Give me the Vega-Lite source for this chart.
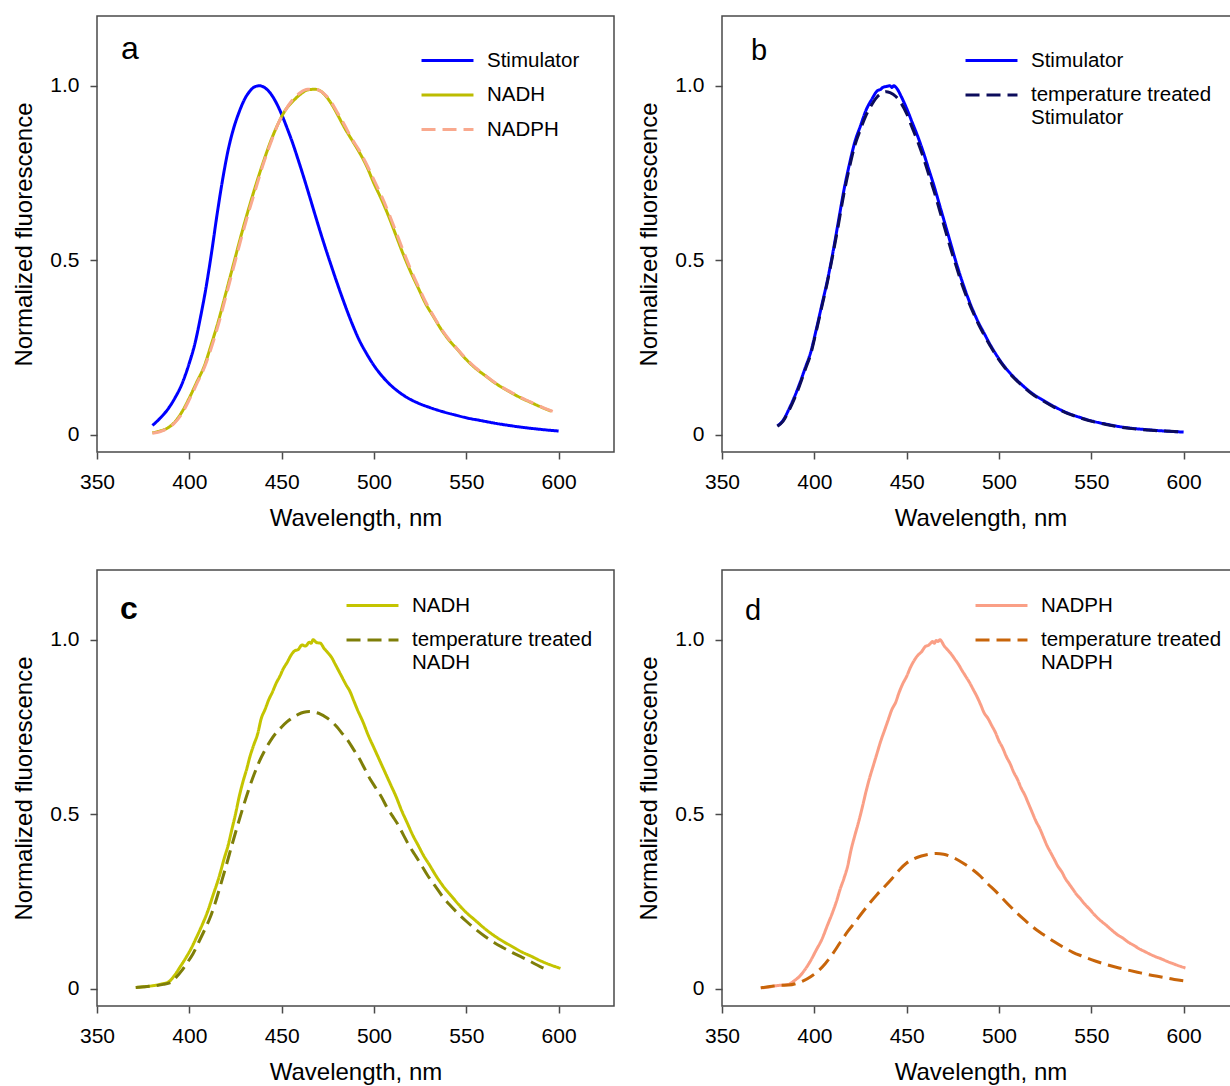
{
"$schema": "https://vega.github.io/schema/vega-lite/v6.json",
"padding": {"left": 12, "top": 15, "right": -8, "bottom": 0},
"background": "white",
"bounds": "flush",
"columns": 2,
"spacing": {"row": 118, "column": 108},
"resolve": {"scale": {"color": "independent", "strokeDash": "independent"}, "legend": {"color": "independent", "strokeDash": "independent"}},
"config": {
  "font": "Liberation Sans",
  "view": {"stroke": "#4a4a4a", "strokeWidth": 1.5},
  "axis": {"domain": false, "grid": false, "ticks": true, "tickColor": "#4a4a4a", "tickWidth": 1.5, "tickSize": 7, "labelFontSize": 21, "labelColor": "#000", "labelPadding": 12, "labelFlush": false, "titleFontSize": 24, "titleFontWeight": "normal", "titleColor": "#000"},
  "axisX": {"titlePadding": 14},
  "axisY": {"labelPadding": 11, "titlePadding": 13},
  "legend": {"orient": "none", "labelFontSize": 20.5, "labelColor": "#000", "symbolType": "stroke", "symbolSize": 2700, "symbolStrokeWidth": 3, "labelOffset": 12, "rowPadding": 13.5, "padding": 0, "clipHeight": 20, "labelLimit": 400},
  "title": {"anchor": "start", "frame": "group", "baseline": "alphabetic", "fontWeight": "normal", "color": "#000", "orient": "top"}
},
"data": {"values": [
{"panel":"a","series":"Stimulator","nm":380,"value":0.026},{"panel":"a","series":"Stimulator","nm":384,"value":0.046},{"panel":"a","series":"Stimulator","nm":388,"value":0.07},{"panel":"a","series":"Stimulator","nm":392,"value":0.103},{"panel":"a","series":"Stimulator","nm":396,"value":0.145},{"panel":"a","series":"Stimulator","nm":400,"value":0.205},{"panel":"a","series":"Stimulator","nm":403,"value":0.26},{"panel":"a","series":"Stimulator","nm":406,"value":0.335},{"panel":"a","series":"Stimulator","nm":409,"value":0.42},{"panel":"a","series":"Stimulator","nm":412,"value":0.52},{"panel":"a","series":"Stimulator","nm":415,"value":0.63},{"panel":"a","series":"Stimulator","nm":418,"value":0.73},{"panel":"a","series":"Stimulator","nm":421,"value":0.815},{"panel":"a","series":"Stimulator","nm":424,"value":0.878},{"panel":"a","series":"Stimulator","nm":427,"value":0.925},{"panel":"a","series":"Stimulator","nm":430,"value":0.962},{"panel":"a","series":"Stimulator","nm":433,"value":0.986},{"panel":"a","series":"Stimulator","nm":435,"value":0.996},{"panel":"a","series":"Stimulator","nm":438,"value":1.0},{"panel":"a","series":"Stimulator","nm":441,"value":0.994},{"panel":"a","series":"Stimulator","nm":444,"value":0.978},{"panel":"a","series":"Stimulator","nm":447,"value":0.952},{"panel":"a","series":"Stimulator","nm":450,"value":0.918},{"panel":"a","series":"Stimulator","nm":453,"value":0.878},{"panel":"a","series":"Stimulator","nm":456,"value":0.835},{"panel":"a","series":"Stimulator","nm":459,"value":0.787},{"panel":"a","series":"Stimulator","nm":462,"value":0.737},{"panel":"a","series":"Stimulator","nm":465,"value":0.685},{"panel":"a","series":"Stimulator","nm":468,"value":0.632},{"panel":"a","series":"Stimulator","nm":471,"value":0.58},{"panel":"a","series":"Stimulator","nm":474,"value":0.53},{"panel":"a","series":"Stimulator","nm":477,"value":0.482},{"panel":"a","series":"Stimulator","nm":480,"value":0.435},{"panel":"a","series":"Stimulator","nm":483,"value":0.39},{"panel":"a","series":"Stimulator","nm":486,"value":0.347},{"panel":"a","series":"Stimulator","nm":489,"value":0.307},{"panel":"a","series":"Stimulator","nm":492,"value":0.271},{"panel":"a","series":"Stimulator","nm":496,"value":0.232},{"panel":"a","series":"Stimulator","nm":500,"value":0.198},{"panel":"a","series":"Stimulator","nm":504,"value":0.17},{"panel":"a","series":"Stimulator","nm":508,"value":0.147},{"panel":"a","series":"Stimulator","nm":513,"value":0.124},{"panel":"a","series":"Stimulator","nm":518,"value":0.106},{"panel":"a","series":"Stimulator","nm":524,"value":0.09},{"panel":"a","series":"Stimulator","nm":530,"value":0.078},{"panel":"a","series":"Stimulator","nm":537,"value":0.066},{"panel":"a","series":"Stimulator","nm":544,"value":0.056},{"panel":"a","series":"Stimulator","nm":551,"value":0.047},{"panel":"a","series":"Stimulator","nm":558,"value":0.04},{"panel":"a","series":"Stimulator","nm":565,"value":0.033},{"panel":"a","series":"Stimulator","nm":572,"value":0.027},{"panel":"a","series":"Stimulator","nm":580,"value":0.021},{"panel":"a","series":"Stimulator","nm":590,"value":0.015},{"panel":"a","series":"Stimulator","nm":600,"value":0.01},
{"panel":"a","series":"NADH","nm":380,"value":0.005},{"panel":"a","series":"NADH","nm":384,"value":0.01},{"panel":"a","series":"NADH","nm":388,"value":0.018},{"panel":"a","series":"NADH","nm":392,"value":0.035},{"panel":"a","series":"NADH","nm":396,"value":0.065},{"panel":"a","series":"NADH","nm":400,"value":0.105},{"panel":"a","series":"NADH","nm":404,"value":0.15},{"panel":"a","series":"NADH","nm":408,"value":0.195},{"panel":"a","series":"NADH","nm":412,"value":0.26},{"panel":"a","series":"NADH","nm":416,"value":0.33},{"panel":"a","series":"NADH","nm":420,"value":0.41},{"panel":"a","series":"NADH","nm":424,"value":0.49},{"panel":"a","series":"NADH","nm":428,"value":0.57},{"panel":"a","series":"NADH","nm":432,"value":0.645},{"panel":"a","series":"NADH","nm":436,"value":0.715},{"panel":"a","series":"NADH","nm":440,"value":0.78},{"panel":"a","series":"NADH","nm":444,"value":0.84},{"panel":"a","series":"NADH","nm":448,"value":0.89},{"panel":"a","series":"NADH","nm":452,"value":0.93},{"panel":"a","series":"NADH","nm":456,"value":0.955},{"panel":"a","series":"NADH","nm":460,"value":0.975},{"panel":"a","series":"NADH","nm":464,"value":0.988},{"panel":"a","series":"NADH","nm":468,"value":0.99},{"panel":"a","series":"NADH","nm":471,"value":0.985},{"panel":"a","series":"NADH","nm":474,"value":0.97},{"panel":"a","series":"NADH","nm":477,"value":0.948},{"panel":"a","series":"NADH","nm":480,"value":0.92},{"panel":"a","series":"NADH","nm":484,"value":0.88},{"panel":"a","series":"NADH","nm":488,"value":0.845},{"panel":"a","series":"NADH","nm":492,"value":0.81},{"panel":"a","series":"NADH","nm":496,"value":0.77},{"panel":"a","series":"NADH","nm":500,"value":0.72},{"panel":"a","series":"NADH","nm":504,"value":0.675},{"panel":"a","series":"NADH","nm":508,"value":0.625},{"panel":"a","series":"NADH","nm":512,"value":0.57},{"panel":"a","series":"NADH","nm":516,"value":0.515},{"panel":"a","series":"NADH","nm":520,"value":0.465},{"panel":"a","series":"NADH","nm":524,"value":0.42},{"panel":"a","series":"NADH","nm":528,"value":0.375},{"panel":"a","series":"NADH","nm":532,"value":0.34},{"panel":"a","series":"NADH","nm":536,"value":0.305},{"panel":"a","series":"NADH","nm":540,"value":0.275},{"panel":"a","series":"NADH","nm":545,"value":0.245},{"panel":"a","series":"NADH","nm":550,"value":0.215},{"panel":"a","series":"NADH","nm":555,"value":0.19},{"panel":"a","series":"NADH","nm":560,"value":0.17},{"panel":"a","series":"NADH","nm":565,"value":0.15},{"panel":"a","series":"NADH","nm":570,"value":0.133},{"panel":"a","series":"NADH","nm":575,"value":0.118},{"panel":"a","series":"NADH","nm":580,"value":0.104},{"panel":"a","series":"NADH","nm":585,"value":0.092},{"panel":"a","series":"NADH","nm":590,"value":0.08},{"panel":"a","series":"NADH","nm":596,"value":0.067},
{"panel":"a","series":"NADPH","nm":380,"value":0.004},{"panel":"a","series":"NADPH","nm":384,"value":0.008},{"panel":"a","series":"NADPH","nm":388,"value":0.017},{"panel":"a","series":"NADPH","nm":392,"value":0.033},{"panel":"a","series":"NADPH","nm":396,"value":0.06},{"panel":"a","series":"NADPH","nm":400,"value":0.10},{"panel":"a","series":"NADPH","nm":404,"value":0.145},{"panel":"a","series":"NADPH","nm":408,"value":0.19},{"panel":"a","series":"NADPH","nm":412,"value":0.25},{"panel":"a","series":"NADPH","nm":416,"value":0.32},{"panel":"a","series":"NADPH","nm":420,"value":0.40},{"panel":"a","series":"NADPH","nm":424,"value":0.48},{"panel":"a","series":"NADPH","nm":428,"value":0.56},{"panel":"a","series":"NADPH","nm":432,"value":0.635},{"panel":"a","series":"NADPH","nm":436,"value":0.705},{"panel":"a","series":"NADPH","nm":440,"value":0.775},{"panel":"a","series":"NADPH","nm":444,"value":0.835},{"panel":"a","series":"NADPH","nm":448,"value":0.89},{"panel":"a","series":"NADPH","nm":452,"value":0.93},{"panel":"a","series":"NADPH","nm":456,"value":0.96},{"panel":"a","series":"NADPH","nm":460,"value":0.98},{"panel":"a","series":"NADPH","nm":464,"value":0.99},{"panel":"a","series":"NADPH","nm":468,"value":0.99},{"panel":"a","series":"NADPH","nm":471,"value":0.985},{"panel":"a","series":"NADPH","nm":474,"value":0.972},{"panel":"a","series":"NADPH","nm":477,"value":0.952},{"panel":"a","series":"NADPH","nm":480,"value":0.925},{"panel":"a","series":"NADPH","nm":484,"value":0.888},{"panel":"a","series":"NADPH","nm":488,"value":0.848},{"panel":"a","series":"NADPH","nm":492,"value":0.815},{"panel":"a","series":"NADPH","nm":496,"value":0.775},{"panel":"a","series":"NADPH","nm":500,"value":0.73},{"panel":"a","series":"NADPH","nm":504,"value":0.685},{"panel":"a","series":"NADPH","nm":508,"value":0.635},{"panel":"a","series":"NADPH","nm":512,"value":0.58},{"panel":"a","series":"NADPH","nm":516,"value":0.525},{"panel":"a","series":"NADPH","nm":520,"value":0.472},{"panel":"a","series":"NADPH","nm":524,"value":0.425},{"panel":"a","series":"NADPH","nm":528,"value":0.38},{"panel":"a","series":"NADPH","nm":532,"value":0.342},{"panel":"a","series":"NADPH","nm":536,"value":0.307},{"panel":"a","series":"NADPH","nm":540,"value":0.277},{"panel":"a","series":"NADPH","nm":545,"value":0.246},{"panel":"a","series":"NADPH","nm":550,"value":0.217},{"panel":"a","series":"NADPH","nm":555,"value":0.192},{"panel":"a","series":"NADPH","nm":560,"value":0.171},{"panel":"a","series":"NADPH","nm":565,"value":0.151},{"panel":"a","series":"NADPH","nm":570,"value":0.134},{"panel":"a","series":"NADPH","nm":575,"value":0.119},{"panel":"a","series":"NADPH","nm":580,"value":0.105},{"panel":"a","series":"NADPH","nm":585,"value":0.093},{"panel":"a","series":"NADPH","nm":590,"value":0.081},{"panel":"a","series":"NADPH","nm":597,"value":0.066},
{"panel":"b","series":"Stimulator","nm":380,"value":0.025},{"panel":"b","series":"Stimulator","nm":383,"value":0.04},{"panel":"b","series":"Stimulator","nm":386,"value":0.07},{"panel":"b","series":"Stimulator","nm":389,"value":0.105},{"panel":"b","series":"Stimulator","nm":392,"value":0.145},{"panel":"b","series":"Stimulator","nm":395,"value":0.19},{"panel":"b","series":"Stimulator","nm":398,"value":0.235},{"panel":"b","series":"Stimulator","nm":401,"value":0.30},{"panel":"b","series":"Stimulator","nm":404,"value":0.37},{"panel":"b","series":"Stimulator","nm":407,"value":0.44},{"panel":"b","series":"Stimulator","nm":410,"value":0.52},{"panel":"b","series":"Stimulator","nm":413,"value":0.61},{"panel":"b","series":"Stimulator","nm":416,"value":0.70},{"panel":"b","series":"Stimulator","nm":419,"value":0.775},{"panel":"b","series":"Stimulator","nm":422,"value":0.84},{"panel":"b","series":"Stimulator","nm":425,"value":0.885},{"panel":"b","series":"Stimulator","nm":428,"value":0.93},{"panel":"b","series":"Stimulator","nm":431,"value":0.96},{"panel":"b","series":"Stimulator","nm":434,"value":0.985},{"panel":"b","series":"Stimulator","nm":436,"value":0.99},{"panel":"b","series":"Stimulator","nm":437,"value":0.995},{"panel":"b","series":"Stimulator","nm":439,"value":0.998},{"panel":"b","series":"Stimulator","nm":441,"value":1.0},{"panel":"b","series":"Stimulator","nm":442,"value":0.995},{"panel":"b","series":"Stimulator","nm":443,"value":1.0},{"panel":"b","series":"Stimulator","nm":445,"value":0.99},{"panel":"b","series":"Stimulator","nm":447,"value":0.97},{"panel":"b","series":"Stimulator","nm":450,"value":0.935},{"panel":"b","series":"Stimulator","nm":453,"value":0.895},{"panel":"b","series":"Stimulator","nm":456,"value":0.855},{"panel":"b","series":"Stimulator","nm":459,"value":0.81},{"panel":"b","series":"Stimulator","nm":462,"value":0.76},{"panel":"b","series":"Stimulator","nm":465,"value":0.71},{"panel":"b","series":"Stimulator","nm":468,"value":0.655},{"panel":"b","series":"Stimulator","nm":471,"value":0.60},{"panel":"b","series":"Stimulator","nm":474,"value":0.545},{"panel":"b","series":"Stimulator","nm":477,"value":0.49},{"panel":"b","series":"Stimulator","nm":480,"value":0.44},{"panel":"b","series":"Stimulator","nm":483,"value":0.395},{"panel":"b","series":"Stimulator","nm":486,"value":0.355},{"panel":"b","series":"Stimulator","nm":489,"value":0.32},{"panel":"b","series":"Stimulator","nm":492,"value":0.29},{"panel":"b","series":"Stimulator","nm":495,"value":0.26},{"panel":"b","series":"Stimulator","nm":499,"value":0.225},{"panel":"b","series":"Stimulator","nm":503,"value":0.195},{"panel":"b","series":"Stimulator","nm":508,"value":0.165},{"panel":"b","series":"Stimulator","nm":513,"value":0.14},{"panel":"b","series":"Stimulator","nm":518,"value":0.118},{"panel":"b","series":"Stimulator","nm":524,"value":0.098},{"panel":"b","series":"Stimulator","nm":530,"value":0.08},{"panel":"b","series":"Stimulator","nm":537,"value":0.062},{"panel":"b","series":"Stimulator","nm":544,"value":0.049},{"panel":"b","series":"Stimulator","nm":551,"value":0.038},{"panel":"b","series":"Stimulator","nm":558,"value":0.03},{"panel":"b","series":"Stimulator","nm":565,"value":0.023},{"panel":"b","series":"Stimulator","nm":572,"value":0.018},{"panel":"b","series":"Stimulator","nm":580,"value":0.014},{"panel":"b","series":"Stimulator","nm":590,"value":0.01},{"panel":"b","series":"Stimulator","nm":600,"value":0.007},
{"panel":"b","series":"temperature treated Stimulator","nm":380,"value":0.024},{"panel":"b","series":"temperature treated Stimulator","nm":383,"value":0.038},{"panel":"b","series":"temperature treated Stimulator","nm":386,"value":0.066},{"panel":"b","series":"temperature treated Stimulator","nm":389,"value":0.10},{"panel":"b","series":"temperature treated Stimulator","nm":392,"value":0.14},{"panel":"b","series":"temperature treated Stimulator","nm":395,"value":0.185},{"panel":"b","series":"temperature treated Stimulator","nm":398,"value":0.23},{"panel":"b","series":"temperature treated Stimulator","nm":401,"value":0.295},{"panel":"b","series":"temperature treated Stimulator","nm":404,"value":0.365},{"panel":"b","series":"temperature treated Stimulator","nm":407,"value":0.435},{"panel":"b","series":"temperature treated Stimulator","nm":410,"value":0.515},{"panel":"b","series":"temperature treated Stimulator","nm":413,"value":0.60},{"panel":"b","series":"temperature treated Stimulator","nm":416,"value":0.69},{"panel":"b","series":"temperature treated Stimulator","nm":419,"value":0.765},{"panel":"b","series":"temperature treated Stimulator","nm":422,"value":0.83},{"panel":"b","series":"temperature treated Stimulator","nm":425,"value":0.875},{"panel":"b","series":"temperature treated Stimulator","nm":428,"value":0.915},{"panel":"b","series":"temperature treated Stimulator","nm":431,"value":0.945},{"panel":"b","series":"temperature treated Stimulator","nm":434,"value":0.968},{"panel":"b","series":"temperature treated Stimulator","nm":437,"value":0.98},{"panel":"b","series":"temperature treated Stimulator","nm":439,"value":0.983},{"panel":"b","series":"temperature treated Stimulator","nm":441,"value":0.98},{"panel":"b","series":"temperature treated Stimulator","nm":444,"value":0.97},{"panel":"b","series":"temperature treated Stimulator","nm":447,"value":0.95},{"panel":"b","series":"temperature treated Stimulator","nm":450,"value":0.92},{"panel":"b","series":"temperature treated Stimulator","nm":453,"value":0.88},{"panel":"b","series":"temperature treated Stimulator","nm":456,"value":0.84},{"panel":"b","series":"temperature treated Stimulator","nm":459,"value":0.795},{"panel":"b","series":"temperature treated Stimulator","nm":462,"value":0.745},{"panel":"b","series":"temperature treated Stimulator","nm":465,"value":0.695},{"panel":"b","series":"temperature treated Stimulator","nm":468,"value":0.64},{"panel":"b","series":"temperature treated Stimulator","nm":471,"value":0.585},{"panel":"b","series":"temperature treated Stimulator","nm":474,"value":0.53},{"panel":"b","series":"temperature treated Stimulator","nm":477,"value":0.48},{"panel":"b","series":"temperature treated Stimulator","nm":480,"value":0.43},{"panel":"b","series":"temperature treated Stimulator","nm":483,"value":0.388},{"panel":"b","series":"temperature treated Stimulator","nm":486,"value":0.35},{"panel":"b","series":"temperature treated Stimulator","nm":489,"value":0.315},{"panel":"b","series":"temperature treated Stimulator","nm":492,"value":0.285},{"panel":"b","series":"temperature treated Stimulator","nm":495,"value":0.257},{"panel":"b","series":"temperature treated Stimulator","nm":499,"value":0.222},{"panel":"b","series":"temperature treated Stimulator","nm":503,"value":0.193},{"panel":"b","series":"temperature treated Stimulator","nm":508,"value":0.163},{"panel":"b","series":"temperature treated Stimulator","nm":513,"value":0.138},{"panel":"b","series":"temperature treated Stimulator","nm":518,"value":0.116},{"panel":"b","series":"temperature treated Stimulator","nm":524,"value":0.096},{"panel":"b","series":"temperature treated Stimulator","nm":530,"value":0.078},{"panel":"b","series":"temperature treated Stimulator","nm":537,"value":0.061},{"panel":"b","series":"temperature treated Stimulator","nm":544,"value":0.048},{"panel":"b","series":"temperature treated Stimulator","nm":551,"value":0.037},{"panel":"b","series":"temperature treated Stimulator","nm":558,"value":0.029},{"panel":"b","series":"temperature treated Stimulator","nm":565,"value":0.022},{"panel":"b","series":"temperature treated Stimulator","nm":572,"value":0.017},{"panel":"b","series":"temperature treated Stimulator","nm":580,"value":0.013},{"panel":"b","series":"temperature treated Stimulator","nm":590,"value":0.01},{"panel":"b","series":"temperature treated Stimulator","nm":600,"value":0.007},
{"panel":"c","series":"NADH","nm":371,"value":0.003},{"panel":"c","series":"NADH","nm":375,"value":0.005},{"panel":"c","series":"NADH","nm":380,"value":0.008},{"panel":"c","series":"NADH","nm":385,"value":0.013},{"panel":"c","series":"NADH","nm":389,"value":0.02},{"panel":"c","series":"NADH","nm":392,"value":0.038},{"panel":"c","series":"NADH","nm":395,"value":0.062},{"panel":"c","series":"NADH","nm":398,"value":0.087},{"panel":"c","series":"NADH","nm":401,"value":0.115},{"panel":"c","series":"NADH","nm":404,"value":0.148},{"panel":"c","series":"NADH","nm":407,"value":0.183},{"panel":"c","series":"NADH","nm":410,"value":0.222},{"panel":"c","series":"NADH","nm":413,"value":0.27},{"panel":"c","series":"NADH","nm":416,"value":0.318},{"panel":"c","series":"NADH","nm":419,"value":0.375},{"panel":"c","series":"NADH","nm":421,"value":0.41},{"panel":"c","series":"NADH","nm":423,"value":0.455},{"panel":"c","series":"NADH","nm":425,"value":0.5},{"panel":"c","series":"NADH","nm":427,"value":0.55},{"panel":"c","series":"NADH","nm":429,"value":0.592},{"panel":"c","series":"NADH","nm":431,"value":0.628},{"panel":"c","series":"NADH","nm":433,"value":0.668},{"panel":"c","series":"NADH","nm":435,"value":0.70},{"panel":"c","series":"NADH","nm":437,"value":0.73},{"panel":"c","series":"NADH","nm":439,"value":0.775},{"panel":"c","series":"NADH","nm":441,"value":0.80},{"panel":"c","series":"NADH","nm":443,"value":0.828},{"panel":"c","series":"NADH","nm":445,"value":0.85},{"panel":"c","series":"NADH","nm":447,"value":0.875},{"panel":"c","series":"NADH","nm":449,"value":0.895},{"panel":"c","series":"NADH","nm":451,"value":0.918},{"panel":"c","series":"NADH","nm":453,"value":0.935},{"panel":"c","series":"NADH","nm":455,"value":0.955},{"panel":"c","series":"NADH","nm":457,"value":0.968},{"panel":"c","series":"NADH","nm":459,"value":0.972},{"panel":"c","series":"NADH","nm":461,"value":0.985},{"panel":"c","series":"NADH","nm":463,"value":0.982},{"panel":"c","series":"NADH","nm":465,"value":0.993},{"panel":"c","series":"NADH","nm":466,"value":0.99},{"panel":"c","series":"NADH","nm":467,"value":1.0},{"panel":"c","series":"NADH","nm":469,"value":0.992},{"panel":"c","series":"NADH","nm":471,"value":0.99},{"panel":"c","series":"NADH","nm":473,"value":0.975},{"panel":"c","series":"NADH","nm":475,"value":0.963},{"panel":"c","series":"NADH","nm":477,"value":0.95},{"panel":"c","series":"NADH","nm":479,"value":0.93},{"panel":"c","series":"NADH","nm":482,"value":0.9},{"panel":"c","series":"NADH","nm":485,"value":0.87},{"panel":"c","series":"NADH","nm":487,"value":0.852},{"panel":"c","series":"NADH","nm":489,"value":0.826},{"panel":"c","series":"NADH","nm":491,"value":0.80},{"panel":"c","series":"NADH","nm":494,"value":0.765},{"panel":"c","series":"NADH","nm":497,"value":0.725},{"panel":"c","series":"NADH","nm":500,"value":0.69},{"panel":"c","series":"NADH","nm":503,"value":0.655},{"panel":"c","series":"NADH","nm":506,"value":0.62},{"panel":"c","series":"NADH","nm":509,"value":0.585},{"panel":"c","series":"NADH","nm":512,"value":0.55},{"panel":"c","series":"NADH","nm":515,"value":0.51},{"panel":"c","series":"NADH","nm":518,"value":0.475},{"panel":"c","series":"NADH","nm":521,"value":0.44},{"panel":"c","series":"NADH","nm":524,"value":0.41},{"panel":"c","series":"NADH","nm":527,"value":0.38},{"panel":"c","series":"NADH","nm":530,"value":0.355},{"panel":"c","series":"NADH","nm":534,"value":0.32},{"panel":"c","series":"NADH","nm":538,"value":0.29},{"panel":"c","series":"NADH","nm":542,"value":0.265},{"panel":"c","series":"NADH","nm":546,"value":0.24},{"panel":"c","series":"NADH","nm":550,"value":0.218},{"panel":"c","series":"NADH","nm":555,"value":0.195},{"panel":"c","series":"NADH","nm":560,"value":0.172},{"panel":"c","series":"NADH","nm":565,"value":0.152},{"panel":"c","series":"NADH","nm":570,"value":0.135},{"panel":"c","series":"NADH","nm":575,"value":0.12},{"panel":"c","series":"NADH","nm":580,"value":0.105},{"panel":"c","series":"NADH","nm":585,"value":0.093},{"panel":"c","series":"NADH","nm":590,"value":0.08},{"panel":"c","series":"NADH","nm":595,"value":0.069},{"panel":"c","series":"NADH","nm":601,"value":0.058},
{"panel":"c","series":"temperature treated NADH","nm":371,"value":0.003},{"panel":"c","series":"temperature treated NADH","nm":376,"value":0.005},{"panel":"c","series":"temperature treated NADH","nm":381,"value":0.008},{"panel":"c","series":"temperature treated NADH","nm":386,"value":0.012},{"panel":"c","series":"temperature treated NADH","nm":390,"value":0.018},{"panel":"c","series":"temperature treated NADH","nm":393,"value":0.033},{"panel":"c","series":"temperature treated NADH","nm":396,"value":0.052},{"panel":"c","series":"temperature treated NADH","nm":399,"value":0.075},{"panel":"c","series":"temperature treated NADH","nm":402,"value":0.1},{"panel":"c","series":"temperature treated NADH","nm":405,"value":0.132},{"panel":"c","series":"temperature treated NADH","nm":408,"value":0.165},{"panel":"c","series":"temperature treated NADH","nm":411,"value":0.2},{"panel":"c","series":"temperature treated NADH","nm":414,"value":0.245},{"panel":"c","series":"temperature treated NADH","nm":417,"value":0.298},{"panel":"c","series":"temperature treated NADH","nm":420,"value":0.353},{"panel":"c","series":"temperature treated NADH","nm":423,"value":0.41},{"panel":"c","series":"temperature treated NADH","nm":426,"value":0.465},{"panel":"c","series":"temperature treated NADH","nm":429,"value":0.518},{"panel":"c","series":"temperature treated NADH","nm":432,"value":0.568},{"panel":"c","series":"temperature treated NADH","nm":435,"value":0.613},{"panel":"c","series":"temperature treated NADH","nm":438,"value":0.652},{"panel":"c","series":"temperature treated NADH","nm":441,"value":0.684},{"panel":"c","series":"temperature treated NADH","nm":444,"value":0.711},{"panel":"c","series":"temperature treated NADH","nm":447,"value":0.733},{"panel":"c","series":"temperature treated NADH","nm":450,"value":0.75},{"panel":"c","series":"temperature treated NADH","nm":453,"value":0.765},{"panel":"c","series":"temperature treated NADH","nm":456,"value":0.777},{"panel":"c","series":"temperature treated NADH","nm":459,"value":0.786},{"panel":"c","series":"temperature treated NADH","nm":462,"value":0.792},{"panel":"c","series":"temperature treated NADH","nm":465,"value":0.794},{"panel":"c","series":"temperature treated NADH","nm":468,"value":0.792},{"panel":"c","series":"temperature treated NADH","nm":471,"value":0.787},{"panel":"c","series":"temperature treated NADH","nm":474,"value":0.778},{"panel":"c","series":"temperature treated NADH","nm":477,"value":0.766},{"panel":"c","series":"temperature treated NADH","nm":480,"value":0.75},{"panel":"c","series":"temperature treated NADH","nm":483,"value":0.73},{"panel":"c","series":"temperature treated NADH","nm":486,"value":0.71},{"panel":"c","series":"temperature treated NADH","nm":489,"value":0.685},{"panel":"c","series":"temperature treated NADH","nm":492,"value":0.66},{"panel":"c","series":"temperature treated NADH","nm":495,"value":0.63},{"panel":"c","series":"temperature treated NADH","nm":498,"value":0.60},{"panel":"c","series":"temperature treated NADH","nm":501,"value":0.575},{"panel":"c","series":"temperature treated NADH","nm":504,"value":0.55},{"panel":"c","series":"temperature treated NADH","nm":507,"value":0.52},{"panel":"c","series":"temperature treated NADH","nm":510,"value":0.495},{"panel":"c","series":"temperature treated NADH","nm":513,"value":0.47},{"panel":"c","series":"temperature treated NADH","nm":516,"value":0.44},{"panel":"c","series":"temperature treated NADH","nm":519,"value":0.41},{"panel":"c","series":"temperature treated NADH","nm":522,"value":0.385},{"panel":"c","series":"temperature treated NADH","nm":525,"value":0.36},{"panel":"c","series":"temperature treated NADH","nm":529,"value":0.325},{"panel":"c","series":"temperature treated NADH","nm":533,"value":0.295},{"panel":"c","series":"temperature treated NADH","nm":537,"value":0.265},{"panel":"c","series":"temperature treated NADH","nm":541,"value":0.24},{"panel":"c","series":"temperature treated NADH","nm":545,"value":0.218},{"panel":"c","series":"temperature treated NADH","nm":550,"value":0.193},{"panel":"c","series":"temperature treated NADH","nm":555,"value":0.17},{"panel":"c","series":"temperature treated NADH","nm":560,"value":0.15},{"panel":"c","series":"temperature treated NADH","nm":565,"value":0.132},{"panel":"c","series":"temperature treated NADH","nm":570,"value":0.117},{"panel":"c","series":"temperature treated NADH","nm":575,"value":0.103},{"panel":"c","series":"temperature treated NADH","nm":580,"value":0.09},{"panel":"c","series":"temperature treated NADH","nm":585,"value":0.077},{"panel":"c","series":"temperature treated NADH","nm":590,"value":0.063},{"panel":"c","series":"temperature treated NADH","nm":594,"value":0.053},
{"panel":"d","series":"NADPH","nm":371,"value":0.002},{"panel":"d","series":"NADPH","nm":375,"value":0.004},{"panel":"d","series":"NADPH","nm":379,"value":0.008},{"panel":"d","series":"NADPH","nm":383,"value":0.01},{"panel":"d","series":"NADPH","nm":386,"value":0.012},{"panel":"d","series":"NADPH","nm":389,"value":0.022},{"panel":"d","series":"NADPH","nm":392,"value":0.035},{"panel":"d","series":"NADPH","nm":395,"value":0.055},{"panel":"d","series":"NADPH","nm":398,"value":0.08},{"panel":"d","series":"NADPH","nm":401,"value":0.11},{"panel":"d","series":"NADPH","nm":404,"value":0.14},{"panel":"d","series":"NADPH","nm":407,"value":0.18},{"panel":"d","series":"NADPH","nm":410,"value":0.22},{"panel":"d","series":"NADPH","nm":412,"value":0.25},{"panel":"d","series":"NADPH","nm":414,"value":0.285},{"panel":"d","series":"NADPH","nm":416,"value":0.315},{"panel":"d","series":"NADPH","nm":418,"value":0.35},{"panel":"d","series":"NADPH","nm":420,"value":0.40},{"panel":"d","series":"NADPH","nm":422,"value":0.44},{"panel":"d","series":"NADPH","nm":424,"value":0.478},{"panel":"d","series":"NADPH","nm":426,"value":0.52},{"panel":"d","series":"NADPH","nm":428,"value":0.565},{"panel":"d","series":"NADPH","nm":430,"value":0.605},{"panel":"d","series":"NADPH","nm":432,"value":0.64},{"panel":"d","series":"NADPH","nm":434,"value":0.675},{"panel":"d","series":"NADPH","nm":436,"value":0.71},{"panel":"d","series":"NADPH","nm":438,"value":0.74},{"panel":"d","series":"NADPH","nm":440,"value":0.77},{"panel":"d","series":"NADPH","nm":442,"value":0.80},{"panel":"d","series":"NADPH","nm":444,"value":0.82},{"panel":"d","series":"NADPH","nm":446,"value":0.85},{"panel":"d","series":"NADPH","nm":448,"value":0.875},{"panel":"d","series":"NADPH","nm":450,"value":0.895},{"panel":"d","series":"NADPH","nm":452,"value":0.92},{"panel":"d","series":"NADPH","nm":454,"value":0.94},{"panel":"d","series":"NADPH","nm":456,"value":0.955},{"panel":"d","series":"NADPH","nm":458,"value":0.965},{"panel":"d","series":"NADPH","nm":460,"value":0.98},{"panel":"d","series":"NADPH","nm":462,"value":0.985},{"panel":"d","series":"NADPH","nm":463,"value":0.99},{"panel":"d","series":"NADPH","nm":464,"value":0.995},{"panel":"d","series":"NADPH","nm":465,"value":0.99},{"panel":"d","series":"NADPH","nm":466,"value":0.998},{"panel":"d","series":"NADPH","nm":467,"value":0.995},{"panel":"d","series":"NADPH","nm":468,"value":1.0},{"panel":"d","series":"NADPH","nm":469,"value":0.995},{"panel":"d","series":"NADPH","nm":470,"value":0.985},{"panel":"d","series":"NADPH","nm":472,"value":0.972},{"panel":"d","series":"NADPH","nm":474,"value":0.96},{"panel":"d","series":"NADPH","nm":476,"value":0.945},{"panel":"d","series":"NADPH","nm":478,"value":0.93},{"panel":"d","series":"NADPH","nm":480,"value":0.912},{"panel":"d","series":"NADPH","nm":482,"value":0.895},{"panel":"d","series":"NADPH","nm":484,"value":0.878},{"panel":"d","series":"NADPH","nm":486,"value":0.858},{"panel":"d","series":"NADPH","nm":488,"value":0.838},{"panel":"d","series":"NADPH","nm":490,"value":0.815},{"panel":"d","series":"NADPH","nm":492,"value":0.79},{"panel":"d","series":"NADPH","nm":494,"value":0.775},{"panel":"d","series":"NADPH","nm":496,"value":0.755},{"panel":"d","series":"NADPH","nm":498,"value":0.735},{"panel":"d","series":"NADPH","nm":500,"value":0.71},{"panel":"d","series":"NADPH","nm":502,"value":0.69},{"panel":"d","series":"NADPH","nm":504,"value":0.665},{"panel":"d","series":"NADPH","nm":506,"value":0.645},{"panel":"d","series":"NADPH","nm":508,"value":0.62},{"panel":"d","series":"NADPH","nm":510,"value":0.60},{"panel":"d","series":"NADPH","nm":512,"value":0.575},{"panel":"d","series":"NADPH","nm":514,"value":0.555},{"panel":"d","series":"NADPH","nm":516,"value":0.53},{"panel":"d","series":"NADPH","nm":518,"value":0.505},{"panel":"d","series":"NADPH","nm":520,"value":0.48},{"panel":"d","series":"NADPH","nm":522,"value":0.46},{"panel":"d","series":"NADPH","nm":524,"value":0.435},{"panel":"d","series":"NADPH","nm":526,"value":0.41},{"panel":"d","series":"NADPH","nm":528,"value":0.39},{"panel":"d","series":"NADPH","nm":530,"value":0.37},{"panel":"d","series":"NADPH","nm":532,"value":0.35},{"panel":"d","series":"NADPH","nm":534,"value":0.335},{"panel":"d","series":"NADPH","nm":536,"value":0.315},{"panel":"d","series":"NADPH","nm":538,"value":0.30},{"panel":"d","series":"NADPH","nm":540,"value":0.285},{"panel":"d","series":"NADPH","nm":542,"value":0.27},{"panel":"d","series":"NADPH","nm":544,"value":0.258},{"panel":"d","series":"NADPH","nm":546,"value":0.245},{"panel":"d","series":"NADPH","nm":549,"value":0.228},{"panel":"d","series":"NADPH","nm":552,"value":0.21},{"panel":"d","series":"NADPH","nm":555,"value":0.195},{"panel":"d","series":"NADPH","nm":558,"value":0.182},{"panel":"d","series":"NADPH","nm":561,"value":0.168},{"panel":"d","series":"NADPH","nm":564,"value":0.155},{"panel":"d","series":"NADPH","nm":567,"value":0.145},{"panel":"d","series":"NADPH","nm":570,"value":0.133},{"panel":"d","series":"NADPH","nm":573,"value":0.124},{"panel":"d","series":"NADPH","nm":576,"value":0.114},{"panel":"d","series":"NADPH","nm":579,"value":0.106},{"panel":"d","series":"NADPH","nm":582,"value":0.098},{"panel":"d","series":"NADPH","nm":585,"value":0.091},{"panel":"d","series":"NADPH","nm":588,"value":0.085},{"panel":"d","series":"NADPH","nm":591,"value":0.078},{"panel":"d","series":"NADPH","nm":594,"value":0.072},{"panel":"d","series":"NADPH","nm":597,"value":0.066},{"panel":"d","series":"NADPH","nm":601,"value":0.059},
{"panel":"d","series":"temperature treated NADPH","nm":371,"value":0.002},{"panel":"d","series":"temperature treated NADPH","nm":376,"value":0.006},{"panel":"d","series":"temperature treated NADPH","nm":381,"value":0.009},{"panel":"d","series":"temperature treated NADPH","nm":386,"value":0.01},{"panel":"d","series":"temperature treated NADPH","nm":390,"value":0.014},{"panel":"d","series":"temperature treated NADPH","nm":394,"value":0.022},{"panel":"d","series":"temperature treated NADPH","nm":398,"value":0.034},{"panel":"d","series":"temperature treated NADPH","nm":402,"value":0.05},{"panel":"d","series":"temperature treated NADPH","nm":406,"value":0.072},{"panel":"d","series":"temperature treated NADPH","nm":410,"value":0.10},{"panel":"d","series":"temperature treated NADPH","nm":414,"value":0.132},{"panel":"d","series":"temperature treated NADPH","nm":418,"value":0.163},{"panel":"d","series":"temperature treated NADPH","nm":422,"value":0.19},{"panel":"d","series":"temperature treated NADPH","nm":426,"value":0.218},{"panel":"d","series":"temperature treated NADPH","nm":430,"value":0.245},{"panel":"d","series":"temperature treated NADPH","nm":434,"value":0.27},{"panel":"d","series":"temperature treated NADPH","nm":438,"value":0.292},{"panel":"d","series":"temperature treated NADPH","nm":442,"value":0.315},{"panel":"d","series":"temperature treated NADPH","nm":446,"value":0.34},{"panel":"d","series":"temperature treated NADPH","nm":450,"value":0.36},{"panel":"d","series":"temperature treated NADPH","nm":454,"value":0.372},{"panel":"d","series":"temperature treated NADPH","nm":458,"value":0.38},{"panel":"d","series":"temperature treated NADPH","nm":462,"value":0.385},{"panel":"d","series":"temperature treated NADPH","nm":466,"value":0.387},{"panel":"d","series":"temperature treated NADPH","nm":470,"value":0.385},{"panel":"d","series":"temperature treated NADPH","nm":474,"value":0.378},{"panel":"d","series":"temperature treated NADPH","nm":478,"value":0.368},{"panel":"d","series":"temperature treated NADPH","nm":482,"value":0.355},{"panel":"d","series":"temperature treated NADPH","nm":486,"value":0.34},{"panel":"d","series":"temperature treated NADPH","nm":490,"value":0.322},{"panel":"d","series":"temperature treated NADPH","nm":494,"value":0.30},{"panel":"d","series":"temperature treated NADPH","nm":498,"value":0.28},{"panel":"d","series":"temperature treated NADPH","nm":502,"value":0.258},{"panel":"d","series":"temperature treated NADPH","nm":506,"value":0.236},{"panel":"d","series":"temperature treated NADPH","nm":510,"value":0.215},{"panel":"d","series":"temperature treated NADPH","nm":514,"value":0.196},{"panel":"d","series":"temperature treated NADPH","nm":518,"value":0.178},{"panel":"d","series":"temperature treated NADPH","nm":522,"value":0.162},{"panel":"d","series":"temperature treated NADPH","nm":526,"value":0.148},{"panel":"d","series":"temperature treated NADPH","nm":530,"value":0.134},{"panel":"d","series":"temperature treated NADPH","nm":535,"value":0.118},{"panel":"d","series":"temperature treated NADPH","nm":540,"value":0.104},{"panel":"d","series":"temperature treated NADPH","nm":545,"value":0.093},{"panel":"d","series":"temperature treated NADPH","nm":550,"value":0.083},{"panel":"d","series":"temperature treated NADPH","nm":555,"value":0.074},{"panel":"d","series":"temperature treated NADPH","nm":560,"value":0.066},{"panel":"d","series":"temperature treated NADPH","nm":565,"value":0.059},{"panel":"d","series":"temperature treated NADPH","nm":570,"value":0.053},{"panel":"d","series":"temperature treated NADPH","nm":575,"value":0.047},{"panel":"d","series":"temperature treated NADPH","nm":580,"value":0.041},{"panel":"d","series":"temperature treated NADPH","nm":585,"value":0.036},{"panel":"d","series":"temperature treated NADPH","nm":590,"value":0.031},{"panel":"d","series":"temperature treated NADPH","nm":595,"value":0.026},{"panel":"d","series":"temperature treated NADPH","nm":600,"value":0.022}
]},
"concat": [
{
  "title": {"text": "a", "dx": 24, "offset": -50, "fontSize": 32},
  "width": 517, "height": 436,
  "transform": [{"filter": "datum.panel === 'a'"}],
  "mark": {"type": "line", "strokeWidth": 3, "interpolate": "monotone"},
  "encoding": {
    "x": {"field": "nm", "type": "quantitative", "scale": {"domain": [350, 630], "nice": false, "zero": false}, "axis": {"values": [350, 400, 450, 500, 550, 600], "title": "Wavelength, nm"}},
    "y": {"field": "value", "type": "quantitative", "scale": {"domain": [-0.05, 1.2], "nice": false, "zero": false}, "axis": {"values": [0, 0.5, 1], "labelExpr": "datum.value === 0 ? '0' : format(datum.value, '.1f')", "title": "Normalized fluorescence"}},
    "color": {"field": "series", "type": "nominal", "scale": {"domain": ["Stimulator", "NADH", "NADPH"], "range": ["#0000ff", "#bcbc00", "#f9a98e"]}, "legend": {"title": null, "legendX": 323, "legendY": 34.5}},
    "strokeDash": {"field": "series", "type": "nominal", "scale": {"domain": ["Stimulator", "NADH", "NADPH"], "range": [[1, 0], [1, 0], [14, 7]]}, "legend": {"title": null, "legendX": 323, "legendY": 34.5}}
  }
},
{
  "title": {"text": "b", "dx": 29, "offset": -50, "fontSize": 29},
  "width": 517, "height": 436,
  "transform": [{"filter": "datum.panel === 'b'"}],
  "mark": {"type": "line", "strokeWidth": 3, "interpolate": "monotone"},
  "encoding": {
    "x": {"field": "nm", "type": "quantitative", "scale": {"domain": [350, 630], "nice": false, "zero": false}, "axis": {"values": [350, 400, 450, 500, 550, 600], "title": "Wavelength, nm"}},
    "y": {"field": "value", "type": "quantitative", "scale": {"domain": [-0.05, 1.2], "nice": false, "zero": false}, "axis": {"values": [0, 0.5, 1], "labelExpr": "datum.value === 0 ? '0' : format(datum.value, '.1f')", "title": "Normalized fluorescence"}},
    "color": {"field": "series", "type": "nominal", "scale": {"domain": ["Stimulator", "temperature treated Stimulator"], "range": ["#0000ff", "#0c0c5c"]}, "legend": {"title": null, "legendX": 242, "legendY": 34.5, "labelExpr": "indexof(datum.label, 'temperature treated ') === 0 ? ['temperature treated', substring(datum.label, 20)] : datum.label"}},
    "strokeDash": {"field": "series", "type": "nominal", "scale": {"domain": ["Stimulator", "temperature treated Stimulator"], "range": [[1, 0], [14, 7]]}, "legend": {"title": null, "legendX": 242, "legendY": 34.5, "labelExpr": "indexof(datum.label, 'temperature treated ') === 0 ? ['temperature treated', substring(datum.label, 20)] : datum.label"}}
  }
},
{
  "title": {"text": "c", "dx": 23, "offset": -56, "fontSize": 32, "fontWeight": "bold"},
  "width": 517, "height": 436,
  "transform": [{"filter": "datum.panel === 'c'"}],
  "mark": {"type": "line", "strokeWidth": 3, "interpolate": "monotone"},
  "encoding": {
    "x": {"field": "nm", "type": "quantitative", "scale": {"domain": [350, 630], "nice": false, "zero": false}, "axis": {"values": [350, 400, 450, 500, 550, 600], "title": "Wavelength, nm"}},
    "y": {"field": "value", "type": "quantitative", "scale": {"domain": [-0.05, 1.2], "nice": false, "zero": false}, "axis": {"values": [0, 0.5, 1], "labelExpr": "datum.value === 0 ? '0' : format(datum.value, '.1f')", "title": "Normalized fluorescence"}},
    "color": {"field": "series", "type": "nominal", "scale": {"domain": ["NADH", "temperature treated NADH"], "range": ["#c4c400", "#7e7e08"]}, "legend": {"title": null, "legendX": 248, "legendY": 25.5, "labelExpr": "indexof(datum.label, 'temperature treated ') === 0 ? ['temperature treated', substring(datum.label, 20)] : datum.label"}},
    "strokeDash": {"field": "series", "type": "nominal", "scale": {"domain": ["NADH", "temperature treated NADH"], "range": [[1, 0], [14, 7]]}, "legend": {"title": null, "legendX": 248, "legendY": 25.5, "labelExpr": "indexof(datum.label, 'temperature treated ') === 0 ? ['temperature treated', substring(datum.label, 20)] : datum.label"}}
  }
},
{
  "title": {"text": "d", "dx": 23, "offset": -56, "fontSize": 29},
  "width": 517, "height": 436,
  "transform": [{"filter": "datum.panel === 'd'"}],
  "mark": {"type": "line", "strokeWidth": 3, "interpolate": "monotone"},
  "encoding": {
    "x": {"field": "nm", "type": "quantitative", "scale": {"domain": [350, 630], "nice": false, "zero": false}, "axis": {"values": [350, 400, 450, 500, 550, 600], "title": "Wavelength, nm"}},
    "y": {"field": "value", "type": "quantitative", "scale": {"domain": [-0.05, 1.2], "nice": false, "zero": false}, "axis": {"values": [0, 0.5, 1], "labelExpr": "datum.value === 0 ? '0' : format(datum.value, '.1f')", "title": "Normalized fluorescence"}},
    "color": {"field": "series", "type": "nominal", "scale": {"domain": ["NADPH", "temperature treated NADPH"], "range": ["#fa9f86", "#c8650a"]}, "legend": {"title": null, "legendX": 252, "legendY": 25.5, "labelExpr": "indexof(datum.label, 'temperature treated ') === 0 ? ['temperature treated', substring(datum.label, 20)] : datum.label"}},
    "strokeDash": {"field": "series", "type": "nominal", "scale": {"domain": ["NADPH", "temperature treated NADPH"], "range": [[1, 0], [14, 7]]}, "legend": {"title": null, "legendX": 252, "legendY": 25.5, "labelExpr": "indexof(datum.label, 'temperature treated ') === 0 ? ['temperature treated', substring(datum.label, 20)] : datum.label"}}
  }
}
]
}
